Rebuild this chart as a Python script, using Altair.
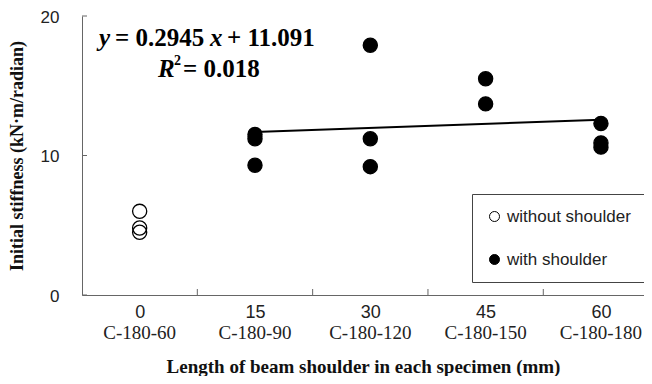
import altair as alt
import pandas as pd

# ---- data ----
lengths_open = [0, 0, 0]
stiff_open = [6.0, 4.8, 4.5]
lengths_filled = [15, 15, 15, 30, 30, 30, 45, 45, 60, 60, 60]
stiff_filled = [11.5, 11.2, 9.3, 17.9, 11.2, 9.2, 15.5, 13.7, 12.3, 10.9, 10.6]
groups = ["without shoulder", "with shoulder"]
tick_lengths = [0, 15, 30, 45, 60]
specimens = ["C-180-60", "C-180-90", "C-180-120", "C-180-150", "C-180-180"]
y_ticks = [0, 10, 20]
x_separators = [7.5, 22.5, 37.5, 52.5]
slope, intercept = 0.2945, 11.091
r2_text = "= 0.018"
fit_range = [15, 60]

W, H = 562, 279
SERIF = "Liberation Serif"
SANS = "Liberation Sans"
AX = "#666666"

points = pd.DataFrame({
    "length": lengths_open + lengths_filled,
    "stiffness": stiff_open + stiff_filled,
    "group": [groups[0]] * len(lengths_open) + [groups[1]] * len(lengths_filled),
})
fit_df = pd.DataFrame({"length": fit_range})
spec_df = pd.DataFrame({"length": tick_lengths, "specimen": specimens})
yt_df = pd.DataFrame({"stiffness": y_ticks})
xs_df = pd.DataFrame({"length": x_separators})
one = pd.DataFrame({"a": [0]})

xscale = alt.Scale(domain=[-7.5, 65.6], nice=False, zero=False)
yscale = alt.Scale(domain=[0, 20], nice=False, zero=True)
xaxis = alt.Axis(values=tick_lengths, ticks=False, grid=False, domainColor=AX,
                 labelFont=SANS, labelFontSize=18, labelColor="#222", labelPadding=8,
                 title="Length of beam shoulder in each specimen (mm)",
                 titleFont=SERIF, titleFontSize=19, titleFontWeight="bold", titleColor="#111",
                 titleY=77, titleBaseline="alphabetic")
yaxis = alt.Axis(values=y_ticks, ticks=False, grid=False, domainColor=AX,
                 labelFont=SANS, labelFontSize=17, labelColor="#222", labelPadding=23,
                 labelOffset=1,
                 title="Initial stiffness (kN·m/radian)",
                 titleFont=SERIF, titleFontSize=18, titleFontWeight="bold", titleColor="#111",
                 titleX=-65, titleY=H / 2, titleAngle=270, titleAlign="center",
                 titleBaseline="middle")
X = alt.X("length:Q", scale=xscale, axis=xaxis)
Y = alt.Y("stiffness:Q", scale=yscale, axis=yaxis)

fit = alt.Chart(fit_df).mark_line(color="black", strokeWidth=2).transform_calculate(
    stiffness=f"{slope} * (datum.length / 15 + 1) + {intercept}"
).encode(x=X, y=Y)

pts = alt.Chart(points).mark_point(filled=True, shape="circle", size=200, stroke="black",
                                   strokeWidth=1.3, opacity=1).encode(
    x=X, y=Y,
    fill=alt.Fill("group:N", scale=alt.Scale(domain=groups, range=["transparent", "black"]),
                  legend=alt.Legend(title=None, orient="none", legendX=390, legendY=178,
                                    strokeColor="#444", fillColor="white", padding=14,
                                    rowPadding=25, labelFont=SANS, labelFontSize=17,
                                    labelColor="#222", symbolSize=100, symbolType="circle",
                                    symbolStrokeColor="black", symbolStrokeWidth=1,
                                    labelOffset=4)),
)

ytick = alt.Chart(yt_df).mark_rule(color=AX).encode(y=Y, x=alt.value(0), x2=alt.value(5))
xtick = alt.Chart(xs_df).mark_rule(color=AX).encode(x=X, y=alt.value(H), y2=alt.value(H - 6))

spec = alt.Chart(spec_df).mark_text(font=SERIF, fontSize=19, baseline="middle",
                                    color="#222").encode(
    x=X, y=alt.value(H + 38), text="specimen:N")


def txt(s, x, y, size=25, style="normal", weight="bold"):
    return alt.Chart(one).mark_text(font=SERIF, fontSize=size, fontStyle=style,
                                    fontWeight=weight, align="left", baseline="alphabetic",
                                    color="black").encode(
        x=alt.value(x), y=alt.value(y), text=alt.value(s))


eq = [
    txt("y", 17, 30, style="italic"),
    txt(f"= {slope}", 33, 30),
    txt("x", 128, 30, style="italic"),
    txt(f"+ {intercept}", 145, 30),
    txt("R", 76, 61, style="italic"),
    txt("2", 92, 49, size=14),
    txt(r2_text, 101, 61),
]

chart = alt.layer(fit, pts, ytick, xtick, spec, *eq).properties(
    width=W, height=H,
    autosize=alt.AutoSizeParams(type="none"),
    padding={"left": 74, "top": 8, "right": 0, "bottom": 81},
    background="white",
).configure_view(stroke=None)

chart.save("out.html", embed_options={"renderer": "svg", "actions": False})
